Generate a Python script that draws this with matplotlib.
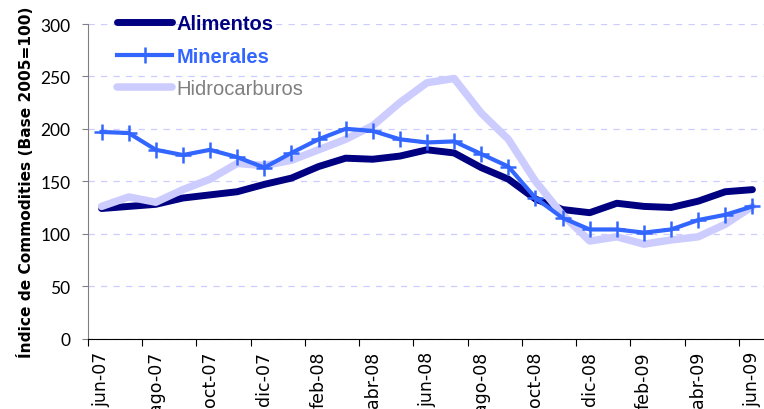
import numpy as np
import matplotlib
matplotlib.use("Agg")
import matplotlib.pyplot as plt

# monthly data, jun-07 .. jun-09 (Base 2005=100)
months = ["jun-07", "jul-07", "ago-07", "sep-07", "oct-07", "nov-07", "dic-07",
          "ene-08", "feb-08", "mar-08", "abr-08", "may-08", "jun-08", "jul-08",
          "ago-08", "sep-08", "oct-08", "nov-08", "dic-08", "ene-09", "feb-09",
          "mar-09", "abr-09", "may-09", "jun-09"]

alimentos = [124, 126, 128, 134, 137, 140, 147, 153, 164, 172, 171, 174, 180,
             177, 163, 152, 133, 123, 120, 129, 126, 125, 131, 140, 142]
minerales = [197, 196, 180, 175, 180, 173, 163, 177, 190, 200, 198, 190, 187,
             188, 176, 164, 134, 115, 104, 104, 101, 104, 113, 118, 126]
hidrocarburos = [126, 135, 130, 142, 152, 167, 165, 170, 180, 190, 203, 225, 244,
                 248, 215, 190, 150, 118, 93, 97, 90, 94, 97, 109, 126]

yticks = [0, 50, 100, 150, 200, 250, 300]

plt.rcParams['font.family'] = ['Lato', 'DejaVu Sans']

fig = plt.figure(figsize=(7.64, 4.10), dpi=100)
ax = fig.add_axes([88/764, 1 - 339.5/410, 678/764, 314.5/410])

x = np.arange(len(months))
ax.plot(x, alimentos, color='#000080', lw=5.0, solid_capstyle='round',
        solid_joinstyle='round', label='Alimentos', zorder=3)
ax.plot(x, hidrocarburos, color='#CCCCFF', lw=5.4, solid_capstyle='round',
        solid_joinstyle='round', label='Hidrocarburos', zorder=4)
ax.plot(x, minerales, color='#3366FF', lw=3.0, marker='+', ms=11, mew=1.8,
        solid_joinstyle='round', label='Minerales', zorder=5)

ax.set_xlim(-0.5, len(months) - 0.5)
ax.set_ylim(0, 300)
ax.set_yticks(yticks)
ax.tick_params(axis='y', labelsize=12.5, length=4.5, color='#808080', pad=8)

# category ticks between months, labels every second month
ax.set_xticks(np.arange(-0.5, len(months), 2))
ax.set_xticklabels([])
ax.set_xticks(x[::2], minor=True)
ax.set_xticklabels(months[::2], minor=True, rotation=90, fontsize=12.5,
                   family=['DejaVu Sans'])
ax.tick_params(axis='x', which='major', length=5, color='black')
ax.tick_params(axis='x', which='minor', length=0, pad=9)

ax.grid(axis='y', color='#CCCCFF', ls=(0, (5, 5)), lw=0.9)
ax.set_axisbelow(True)
for s in ['top', 'right']:
    ax.spines[s].set_visible(False)
ax.spines['left'].set_color('#808080')
ax.spines['bottom'].set_color('black')

ax.set_ylabel('Índice de Commodities (Base 2005=100)', fontsize=11.1,
              fontweight='bold', family=['DejaVu Sans'], labelpad=5)

h, l = ax.get_legend_handles_labels()
order = [0, 2, 1]
leg = fig.legend([h[i] for i in order], [l[i] for i in order],
                 loc='upper left', bbox_to_anchor=(117/764, 1 - 15/410),
                 frameon=False, borderpad=0, borderaxespad=0,
                 handlelength=2.75, handletextpad=0.2, labelspacing=0.68,
                 prop={'family': ['Liberation Sans'], 'size': 14.5})
colors = ['#000080', '#3366FF', '#808080']
weights = ['bold', 'bold', 'normal']
for t, c, w in zip(leg.get_texts(), colors, weights):
    t.set_color(c)
    t.set_fontweight(w)

fig.savefig('out.png', dpi=100)
